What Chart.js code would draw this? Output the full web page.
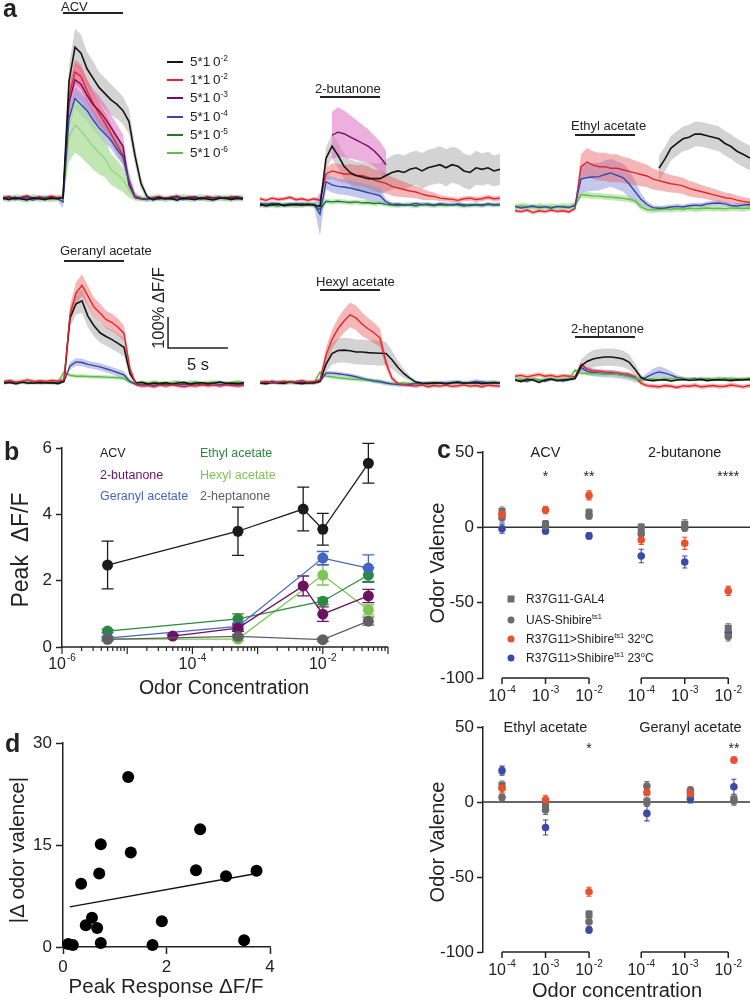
<!DOCTYPE html>
<html lang="en">
<head>
<meta charset="utf-8">
<title>Odor responses and odor valence</title>
<script src="https://cdn.jsdelivr.net/npm/chart.js@4.4.1/dist/chart.umd.min.js"></script>
<style>
html,body{margin:0;padding:0;background:#fff;}
#fig{position:relative;width:750px;height:1001px;overflow:hidden;font-family:'Liberation Sans',Arial,Helvetica,sans-serif;color:#222;}
#fig canvas{position:absolute;}
.t{position:absolute;white-space:nowrap;line-height:1;}
.c{transform:translate(-50%,-50%);}
.l{transform:translateY(-50%);}
.r{transform:translate(-50%,-50%) rotate(-90deg);}
.pl{font-weight:bold;font-size:25px;}
sup{font-size:62%;line-height:0;vertical-align:0;position:relative;top:-0.62em;}
.key{position:absolute;height:2px;width:16px;}
.mk{position:absolute;width:7px;height:7px;transform:translate(-50%,-50%);}
</style>
</head>
<body>
<div id="fig"></div>
<script>
// ======================= DATA =======================
// ---- panel a: time axis (s) ----
const TIME = [0,0.5,1,1.5,2,2.5,3,3.5,4,4.5,5,5.5,6,6.5,7,7.5,8,8.5,9,9.5,10,10.5,11,11.5,12,12.5,13,13.5,14,14.5,15,15.5,16,16.5,17,17.5,18,18.5,19,19.5,20];
const STIM = [5, 10];
const SCALEBAR = {t: 13.67, v: 1.13, dt: 5, dv: 1};
const A_TITLES = ['ACV','2-butanone','Ethyl acetate','Geranyl acetate','Hexyl acetate','2-heptanone'];
const A_LEG_MANT = ['5','1','5','5','5','5'];
const A_LEG_EXP = ['-2','-2','-3','-4','-5','-6'];

// ACV
const ACV_BLACK = [0.03,-0.02,0.05,0.00,-0.03,0.04,0.01,-0.02,0.03,0.00, 0.05, 3.8,4.9,4.7,4.2,3.9,3.6,3.4,3.2,3.05,2.85,2.5,1.4,0.5,0.08, -0.03,0.04,0.00,0.02,-0.04,0.03,0.01,-0.02,0.04,0.00,-0.03,0.02,0.05,-0.01,0.02,0.00];
const ACV_BLACK_SEM = [0.08,0.08,0.08,0.08,0.08,0.08,0.08,0.08,0.08,0.08, 0.1, 0.5,0.6,0.6,0.55,0.55,0.5,0.5,0.5,0.45,0.45,0.4,0.3,0.2,0.1, 0.08,0.08,0.08,0.08,0.08,0.08,0.08,0.08,0.08,0.08,0.08,0.08,0.08,0.08,0.08,0.08];
const ACV_RED = [0.05,0.08,0.02,0.06,0.1,0.03,0.07,0.04,0.09,0.05, 0.05, 3.3,4.1,3.95,3.5,3.1,2.75,2.45,2.1,1.75,1.4,0.6,0.1,0.02,-0.02, 0.04,0.08,0.02,0.06,0.1,0.03,0.07,0.05,0.02,0.08,0.04,0.06,0.03,0.07,0.05,0.04];
const ACV_RED_SEM = [0.06,0.06,0.06,0.06,0.06,0.06,0.06,0.06,0.06,0.06, 0.06, 0.35,0.4,0.4,0.38,0.35,0.35,0.33,0.32,0.3,0.3,0.25,0.12,0.06,0.06, 0.06,0.06,0.06,0.06,0.06,0.06,0.06,0.06,0.06,0.06,0.06,0.06,0.06,0.06,0.06,0.06];
const ACV_PURPLE = [0.02,0.06,0.0,0.04,0.08,0.02,0.05,0.01,0.06,0.03, 0.04, 3.1,3.85,3.7,3.35,3.05,2.85,2.6,2.3,2.0,1.7,0.45,0.05,0.02,0.0, 0.03,0.06,0.01,0.05,0.08,0.02,0.04,0.07,0.01,0.05,0.03,0.06,0.02,0.04,0.07,0.03];
const ACV_PURPLE_SEM = [0.06,0.06,0.06,0.06,0.06,0.06,0.06,0.06,0.06,0.06, 0.06, 0.5,0.55,0.55,0.5,0.5,0.48,0.45,0.42,0.4,0.38,0.25,0.1,0.06,0.06, 0.06,0.06,0.06,0.06,0.06,0.06,0.06,0.06,0.06,0.06,0.06,0.06,0.06,0.06,0.06,0.06];
const ACV_BLUE = [0.0,0.04,-0.02,0.03,0.01,-0.03,0.02,0.05,0.0,0.03, -0.1, 2.6,3.25,3.05,2.85,2.55,2.3,2.1,1.9,1.6,1.35,0.55,0.05,0.0,-0.02, 0.02,-0.01,0.03,0.0,0.04,-0.02,0.01,0.03,-0.01,0.02,0.0,0.04,0.01,-0.02,0.03,0.01];
const ACV_BLUE_SEM = [0.06,0.06,0.06,0.06,0.06,0.06,0.06,0.06,0.06,0.06, 0.2, 0.35,0.35,0.35,0.33,0.32,0.3,0.3,0.28,0.27,0.25,0.2,0.06,0.06,0.06, 0.06,0.06,0.06,0.06,0.06,0.06,0.06,0.06,0.06,0.06,0.06,0.06,0.06,0.06,0.06,0.06];
const ACV_LTGREEN = [0.04,0.0,0.05,0.02,-0.02,0.06,0.01,0.03,-0.01,0.04, 0.05, 2.0,2.4,2.2,1.95,1.7,1.5,1.3,0.95,0.8,0.62,0.3,0.05,0.02,0.0, 0.03,0.05,0.0,0.04,0.02,0.06,0.01,0.03,0.05,0.0,0.02,0.04,0.01,0.05,0.02,0.03];
const ACV_LTGREEN_SEM = [0.1,0.1,0.1,0.1,0.1,0.1,0.1,0.1,0.1,0.1, 0.1, 0.8,0.9,0.85,0.8,0.75,0.7,0.6,0.5,0.45,0.4,0.25,0.1,0.1,0.1, 0.1,0.1,0.1,0.1,0.1,0.1,0.1,0.1,0.1,0.1,0.1,0.1,0.1,0.1,0.1,0.1];

// 2-butanone
const BUT_BLACK = [0.02,-0.03,0.01,0.04,-0.02,0.0,0.03,-0.01,0.02,0.0, -0.05, 1.5,1.9,1.6,1.25,1.05,0.95,0.9,0.85,0.85,0.85, 0.95,1.05,1.1,1.05,1.15,1.2,1.1,1.2,1.25,1.3, 1.2,1.3,1.25,1.1,1.05,1.2,1.15,1.2,1.1,1.15];
const BUT_BLACK_SEM = [0.08,0.08,0.08,0.08,0.08,0.08,0.08,0.08,0.08,0.08, 0.1, 0.35,0.4,0.4,0.4,0.42,0.45,0.48,0.5,0.5,0.5, 0.52,0.55,0.55,0.55,0.55,0.55,0.58,0.58,0.58,0.6, 0.6,0.58,0.58,0.55,0.55,0.55,0.52,0.52,0.5,0.5];
const BUT_PURPLE = [null,null,null,null,null,null,null,null,null,null,null,null, 2.25,2.35,2.3,2.2,2.1,2.0,1.9,1.75,1.55,1.3, null,null,null,null,null,null,null,null,null,null,null,null,null,null,null,null,null,null,null];
const BUT_PURPLE_SEM = [null,null,null,null,null,null,null,null,null,null,null,null, 0.75,0.8,0.75,0.7,0.65,0.6,0.55,0.5,0.5,0.45, null,null,null,null,null,null,null,null,null,null,null,null,null,null,null,null,null,null,null];
const BUT_RED = [0.2,0.15,0.22,0.18,0.2,0.25,0.17,0.2,0.15,0.2, 0.15, 1.0,1.1,1.05,1.0,1.0,0.95,0.95,0.9,0.8,0.75, 0.7,0.6,0.55,0.5,0.45,0.42,0.35,0.3,0.28,0.22, 0.2,0.18,0.15,0.2,0.22,0.18,0.2,0.25,0.2,0.22];
const BUT_RED_SEM = [0.06,0.06,0.06,0.06,0.06,0.06,0.06,0.06,0.06,0.06, 0.06, 0.2,0.25,0.28,0.3,0.32,0.33,0.35,0.35,0.35,0.35, 0.33,0.3,0.28,0.25,0.22,0.2,0.18,0.15,0.12,0.1, 0.08,0.08,0.08,0.08,0.08,0.08,0.08,0.08,0.08,0.08];
const BUT_BLUE = [0.05,0.02,0.06,0.03,0.0,0.04,0.02,0.05,0.01,0.03, -0.3, 0.75,0.65,0.6,0.58,0.55,0.5,0.45,0.4,0.35,0.3,0.1,0.02, 0.03,0.0,0.02,0.05,0.01,0.03,0.0,0.04,0.02,0.0,0.03,0.01,-0.02,0.02,0.0,0.03,0.01,0.02];
const BUT_BLUE_SEM = [0.06,0.06,0.06,0.06,0.06,0.06,0.06,0.06,0.06,0.06, 0.7, 0.25,0.25,0.25,0.25,0.25,0.25,0.25,0.25,0.25,0.25, 0.1, 0.06, 0.06,0.06,0.06,0.06,0.06,0.06,0.06,0.06,0.06,0.06,0.06,0.06,0.06,0.06,0.06,0.06,0.06,0.06];
const BUT_DKGREEN = [-0.02,0.03,0.0,-0.03,0.02,0.01,-0.02,0.0,0.03,-0.01, -0.15, 0.12,0.1,0.12,0.1,0.08,0.1,0.07,0.08,0.05,0.06,0.02,0.0, -0.02,0.01,0.0,-0.03,0.02,0.0,-0.02,0.01,-0.01,0.02,0.0,-0.03,0.01,0.0,-0.02,0.02,0.0,0.01];
const BUT_DKGREEN_SEM = 0.08;

// Ethyl acetate
const ETH_BLACK = [null,null,null,null,null,null,null,null,null,null,null,null,null,null,null,null,null,null,null,null,null,null,null,null, 1.25,1.55,1.9,2.05,2.2,2.25,2.35,2.35,2.3,2.25, 2.2,2.05,1.95,1.8,1.7,1.6,1.55];
const ETH_BLACK_SEM = 0.4;
const ETH_RED = [-0.12,-0.15,-0.1,-0.18,-0.12,-0.15,-0.1,-0.14,-0.12,-0.16, -0.05, 1.3,1.45,1.35,1.3,1.3,1.25,1.25,1.2,1.15,1.1, 1.05,1.0,0.9,0.85,0.8,0.75,0.72,0.68,0.6,0.55, 0.5,0.45,0.4,0.35,0.3,0.28,0.22,0.18,0.15,0.12];
const ETH_RED_SEM = [0.06,0.06,0.06,0.06,0.06,0.06,0.06,0.06,0.06,0.06, 0.06, 0.4,0.45,0.45,0.45,0.45,0.45,0.45,0.42,0.42,0.4, 0.38,0.36,0.34,0.32,0.3,0.28,0.27,0.26,0.25,0.24, 0.22,0.2,0.2,0.18,0.17,0.16,0.15,0.14,0.13,0.12];
const ETH_BLUE = [0.02,-0.03,0.0,0.03,-0.02,0.01,-0.04,0.02,0.0,-0.02, 0.05, 0.9,0.95,0.97,0.98,1.05,1.1,1.02,0.95,0.75,0.5, 0.25,0.08,-0.02,-0.04,-0.03,0.0,0.02,0.0,0.04,0.06, 0.05,0.1,0.12,0.13,0.1,0.05,0.03,0.06,0.08,0.07];
const ETH_BLUE_SEM = [0.06,0.06,0.06,0.06,0.06,0.06,0.06,0.06,0.06,0.06, 0.1, 0.45,0.45,0.45,0.45,0.45,0.45,0.45,0.45,0.45, 0.35,0.2,0.1, 0.08,0.08,0.08,0.08,0.08,0.08,0.08,0.08,0.08,0.08,0.08,0.08,0.08,0.08,0.08,0.08,0.08,0.08];
const ETH_LTGREEN = [0.0,0.04,0.02,-0.02,0.03,0.0,0.02,-0.01,0.03,0.01, 0.05, 0.4,0.38,0.36,0.35,0.33,0.32,0.3,0.28,0.25,0.2,0.0,-0.08,-0.1,-0.08, -0.06,-0.08,-0.05,-0.07,-0.04,-0.06,-0.05,-0.03,-0.05,-0.04,-0.06,-0.03,-0.04,-0.05,-0.03,-0.04];
const ETH_LTGREEN_SEM = 0.1;

// Geranyl acetate
const GER_RED = [0.05,0.08,0.03,0.06,0.1,0.04,0.07,0.05,0.08,0.06, 0.1, 2.2,2.9,3.15,2.8,2.45,2.26,2.05,1.95,1.8,1.6,0.45,-0.05, -0.1,-0.08,-0.12,-0.07,-0.1,-0.06,-0.09,-0.12,-0.08,-0.1,-0.05,-0.09,-0.07,-0.1,-0.06,-0.08,-0.1,-0.07];
const GER_RED_SEM = [0.06,0.06,0.06,0.06,0.06,0.06,0.06,0.06,0.06,0.06, 0.06, 0.3,0.35,0.35,0.33,0.3,0.3,0.28,0.28,0.27,0.25,0.15,0.06, 0.06,0.06,0.06,0.06,0.06,0.06,0.06,0.06,0.06,0.06,0.06,0.06,0.06,0.06,0.06,0.06,0.06,0.06];
const GER_BLACK = [0.0,0.02,-0.02,0.03,0.0,-0.01,0.02,0.0,0.01,-0.02, 0.05, 2.1,2.55,2.65,2.15,1.85,1.62,1.5,1.4,1.28,1.15,0.3,0.0, 0.02,-0.03,0.0,-0.02,0.01,-0.04,0.0,0.02,-0.03,0.0,0.01,-0.02,0.0,0.03,-0.01,0.0,-0.02,0.01];
const GER_BLACK_SEM = [0.05,0.05,0.05,0.05,0.05,0.05,0.05,0.05,0.05,0.05, 0.05, 0.3,0.35,0.38,0.36,0.34,0.32,0.3,0.3,0.3,0.3,0.15,0.05, 0.05,0.05,0.05,0.05,0.05,0.05,0.05,0.05,0.05,0.05,0.05,0.05,0.05,0.05,0.05,0.05,0.05,0.05];
const GER_BLUE = [0.0,0.03,-0.02,0.02,0.0,0.04,-0.01,0.02,0.0,0.03, 0.05, 0.55,0.68,0.66,0.6,0.56,0.52,0.46,0.4,0.33,0.26,0.05,-0.05, -0.06,-0.04,-0.07,-0.03,-0.05,-0.02,-0.06,-0.04,-0.05,-0.03,-0.06,-0.04,-0.02,-0.05,-0.03,-0.04,-0.06,-0.03];
const GER_BLUE_SEM = [0.05,0.05,0.05,0.05,0.05,0.05,0.05,0.05,0.05,0.05, 0.05, 0.12,0.12,0.12,0.12,0.12,0.12,0.12,0.12,0.12,0.12, 0.06, 0.05, 0.05,0.05,0.05,0.05,0.05,0.05,0.05,0.05,0.05,0.05,0.05,0.05,0.05,0.05,0.05,0.05,0.05,0.05];
const GER_LTGREEN = [0.02,0.05,0.0,0.04,0.02,0.06,0.01,0.03,0.05,0.02, 0.35, 0.25,0.22,0.22,0.21,0.2,0.2,0.19,0.18,0.17,0.15,0.02,0.0, 0.02,0.0,0.03,0.01,-0.01,0.02,0.04,0.0,0.02,0.03,0.0,0.01,0.03,0.02,0.0,0.02,0.04,0.01];
const GER_LTGREEN_SEM = 0.06;

// Hexyl acetate
const HEX_RED = [0.02,0.05,0.0,0.03,0.06,0.02,0.04,0.08,0.03,0.05, 0.1, 0.9,1.4,1.75,2.0,2.2,2.1,1.9,1.75,1.62,1.45,0.65,0.15,-0.02, -0.05,-0.08,-0.1,-0.06,-0.12,-0.08,-0.1,-0.07,-0.11,-0.09,-0.06,-0.1,-0.08,-0.12,-0.07,-0.09,-0.1];
const HEX_RED_SEM = [0.05,0.05,0.05,0.05,0.05,0.05,0.05,0.05,0.05,0.05, 0.05, 0.25,0.3,0.35,0.38,0.4,0.4,0.38,0.35,0.33,0.3,0.2,0.1,0.06, 0.06,0.06,0.06,0.06,0.06,0.06,0.06,0.06,0.06,0.06,0.06,0.06,0.06,0.06,0.06,0.06,0.06];
const HEX_BLACK = [0.0,-0.02,0.02,0.0,-0.01,0.03,0.0,-0.02,0.01,0.0, 0.05, 0.6,0.95,1.05,1.06,1.04,1.0,1.0,0.98,0.97,0.96,0.95,0.75,0.5,0.3,0.15,0.03, 0.0,-0.02,0.01,0.0,-0.03,0.0,0.02,-0.01,0.0,0.01,-0.02,0.0,0.01,0.0];
const HEX_BLACK_SEM = [0.05,0.05,0.05,0.05,0.05,0.05,0.05,0.05,0.05,0.05, 0.05, 0.25,0.35,0.4,0.4,0.4,0.4,0.4,0.4,0.4,0.4,0.38,0.3,0.2,0.15,0.08,0.05, 0.05,0.05,0.05,0.05,0.05,0.05,0.05,0.05,0.05,0.05,0.05,0.05,0.05,0.05];
const HEX_BLUE = [0.03,0.0,0.05,0.02,-0.01,0.04,0.01,0.03,0.0,0.02, 0.05, 0.32,0.32,0.3,0.27,0.24,0.2,0.15,0.1,0.06,0.04,0.0,-0.03,-0.05,-0.06, -0.04,-0.02,-0.03,0.0,-0.02,0.01,0.0,0.02,0.03,0.0,0.02,0.05,0.03,0.01,0.02,0.0];
const HEX_BLUE_SEM = 0.07;
const HEX_LTGREEN = [0.0,0.02,0.04,0.0,0.03,0.01,0.02,0.0,0.03,0.01, 0.35, 0.22,0.2,0.17,0.15,0.13,0.12,0.1,0.1,0.08,0.06,0.0,-0.03, -0.02,0.0,-0.03,0.01,-0.02,0.0,0.02,-0.01,0.0,0.01,0.03,0.0,-0.01,0.02,0.0,0.01,0.03,0.0];
const HEX_LTGREEN_SEM = 0.06;

// 2-heptanone
const HEP_BLACK = [0.0,-0.05,0.02,0.0,-0.08,0.0,0.03,-0.02,0.0,0.02, 0.05, 0.45,0.6,0.68,0.72,0.74,0.74,0.72,0.68,0.58,0.35,0.08,0.0, -0.02,0.0,0.01,-0.03,0.0,0.02,-0.01,0.0,0.02,-0.02,0.0,0.01,0.0,-0.02,0.01,0.0,0.02,0.0];
const HEP_BLACK_SEM = [0.04,0.04,0.04,0.04,0.04,0.04,0.04,0.04,0.04,0.04, 0.05, 0.2,0.25,0.28,0.28,0.28,0.28,0.28,0.27,0.25,0.2,0.08,0.04, 0.04,0.04,0.04,0.04,0.04,0.04,0.04,0.04,0.04,0.04,0.04,0.04,0.04,0.04,0.04,0.04,0.04,0.04];
const HEP_RED = [0.12,0.15,0.1,0.14,0.18,0.12,0.15,0.1,0.14,0.12, 0.1, 0.5,0.35,0.3,0.28,0.26,0.25,0.23,0.2,0.18,0.1,-0.1,-0.18, -0.2,-0.22,-0.18,-0.2,-0.24,-0.19,-0.2,-0.17,-0.22,-0.2,-0.18,-0.21,-0.2,-0.16,-0.19,-0.22,-0.18,-0.2];
const HEP_RED_SEM = 0.07;
const HEP_BLUE = [0.02,0.0,-0.05,0.03,0.0,-0.04,0.02,0.0,-0.03,0.01, 0.05, 0.4,0.28,0.24,0.22,0.2,0.2,0.18,0.15,0.12,0.05, 0.0,0.1,0.2,0.26,0.22,0.16,0.08,0.05, 0.03,0.05,0.02,0.04,0.01,0.03,0.05,0.02,0.0,0.03,0.04,0.02];
const HEP_BLUE_SEM = [0.05,0.05,0.05,0.05,0.05,0.05,0.05,0.05,0.05,0.05, 0.05, 0.12,0.12,0.12,0.12,0.12,0.12,0.12,0.12,0.12,0.12, 0.08, 0.12,0.16,0.18,0.16,0.12,0.08,0.06, 0.05,0.05,0.05,0.05,0.05,0.05,0.05,0.05,0.05,0.05,0.05,0.05];
const HEP_LTGREEN = [0.0,0.03,0.01,0.04,0.0,0.02,0.05,0.01,0.03,0.02, 0.32, 0.22,0.21,0.2,0.2,0.19,0.19,0.18,0.14,0.1,0.05,0.0,0.02, 0.03,0.02,0.04,0.03,0.05,0.03,0.04,0.02,0.05,0.03,0.04,0.06,0.03,0.05,0.04,0.03,0.05,0.04];
const HEP_LTGREEN_SEM = 0.06;

// ---- panel b: peak dF/F vs concentration ----
const B_NAMES = ['ACV','2-butanone','Geranyl acetate','Ethyl acetate','Hexyl acetate','2-heptanone'];
const B_ACV_X = [5e-6,5e-4,5e-3,1e-2,5e-2];
const B_ACV_Y = [2.47,3.49,4.16,3.55,5.54];
const B_ACV_E = [0.72,0.73,0.66,0.48,0.6];
const B_BUT_X = [5e-5,5e-4,5e-3,1e-2,5e-2];
const B_BUT_Y = [0.33,0.57,1.84,0.99,1.54];
const B_BUT_E = [0.05,0.1,0.3,0.22,0.2];
const B_GER_X = [5e-6,5e-4,1e-2,5e-2];
const B_GER_Y = [0.27,0.62,2.68,2.38];
const B_GER_E = [0.05,0.1,0.2,0.4];
const B_ETH_X = [5e-6,5e-4,1e-2,5e-2];
const B_ETH_Y = [0.48,0.85,1.38,2.17];
const B_ETH_E = [0.05,0.15,0.1,0.22];
const B_HEX_X = [5e-6,5e-4,1e-2,5e-2];
const B_HEX_Y = [0.24,0.24,2.17,1.12];
const B_HEX_E = [0.05,0.05,0.3,0.15];
const B_HEP_X = [5e-6,5e-4,1e-2,5e-2];
const B_HEP_Y = [0.23,0.32,0.22,0.78];
const B_HEP_E = [0.05,0.05,0.05,0.12];
const B_XLABEL_EXP = [-6,-4,-2];

// ---- panel c: odor valence ----
const C_CONC_EXP = ['-4','-3','-2'];
const C_TOP_ODORS = ['ACV','2-butanone'];
const C_BOT_ODORS = ['Ethyl acetate','Geranyl acetate'];
const C_GENOTYPES = ['R37G11-GAL4','UAS-Shibire<sup>ts1</sup>','R37G11>Shibire<sup>ts1</sup> 32<sup>o</sup>C','R37G11>Shibire<sup>ts1</sup> 23<sup>o</sup>C'];
const C_TOP_GAL4 = [10.5, 2, 9.7, -0.2, 2, -67];
const C_TOP_UAS  = [6.4, 0.9, 7.5, -4.2, -0.5, -72.4];
const C_TOP_HOT  = [8.6, 11.5, 21.2, -8.4, -10.6, -42.2];
const C_TOP_COLD = [-0.9, -2.4, -5.7, -19, -23, -70];
const C_TOP_GAL4_E = [3, 2.5, 2.5, 2.5, 3, 3];
const C_TOP_UAS_E  = [3, 2, 2, 2, 2, 3];
const C_TOP_HOT_E  = [3, 2.5, 3, 3, 4, 3];
const C_TOP_COLD_E = [3, 2, 2, 4.5, 4, 3];
const C_TOP_STARS = ['', '*', '**', '', '', '****'];
const C_BOT_GAL4 = [11, -3, -75, 0.2, 5.3, 1.8];
const C_BOT_UAS  = [3.1, -5.3, -79.8, 10.7, 8, 0.9];
const C_BOT_HOT  = [9.1, 1.5, -59.8, 6.4, 6, 28];
const C_BOT_COLD = [20.9, -17, -85.3, -7.6, 2.4, 10.2];
const C_BOT_GAL4_E = [3, 3, 2.5, 3, 2.5, 3];
const C_BOT_UAS_E  = [2, 3, 3, 3, 2, 3];
const C_BOT_HOT_E  = [3, 3, 3, 2, 2, 2];
const C_BOT_COLD_E = [3, 5, 2, 5, 3, 5];
const C_BOT_STARS = ['', '', '*', '', '', '**'];

// ---- panel d: |delta valence| vs peak response ----
const D_X = [1.26,2.65,0.73,1.31,0.35,0.70,2.57,3.15,3.74,0.44,0.56,0.66,1.91,3.50,0.73,1.73,0.10,0.19];
const D_Y = [25.0,17.3,15.1,13.9,9.3,10.8,11.3,10.4,11.2,3.2,4.3,2.8,3.8,1.0,0.6,0.3,0.45,0.3];
const D_FIT_X = [0.13, 3.74];
const D_FIT_Y = [5.9, 10.8];

// ======================= STYLE =======================
const FONT = "'Liberation Sans', Arial, Helvetica, sans-serif";
const INK = '#222';
const C_BLACK = '#141414', C_RED = '#e2262b', C_PURPLE = '#6a1060', C_BLUE = '#3548a6', C_DKGREEN = '#1e7b2e', C_LTGREEN = '#5fbf45';
const BD_GRAY = 'rgba(175,175,175,0.55)', BD_SALMON = 'rgba(230,80,85,0.42)', BD_PINK = 'rgba(220,110,195,0.55)', BD_LAV = 'rgba(140,145,220,0.5)', BD_LTG = 'rgba(140,210,120,0.5)';
const B_COL = {acv:'#1b1b1b', but:'#6b1260', ger:'#4565c2', eth:'#2b8a3e', hex:'#7cc653', hep:'#606060'};
const CV_GRAY = '#6c6c6c', CV_HOT = '#e8502e', CV_COLD = '#3b4aa6';
const UNIT_PX = 31;

Chart.defaults.font.family = FONT;
Chart.defaults.color = INK;
Chart.defaults.animation = false;

const fig = document.getElementById('fig');
function txt(html, x, y, cls, css) {
  const d = document.createElement('div');
  d.className = 't ' + (cls || 'c');
  d.style.left = x + 'px'; d.style.top = y + 'px';
  if (css) d.style.cssText += css;
  d.innerHTML = html;
  fig.appendChild(d);
  return d;
}
function mkCanvas(left, top, w, h) {
  const c = document.createElement('canvas');
  c.width = w; c.height = h;
  c.style.left = left + 'px'; c.style.top = top + 'px';
  c.style.width = w + 'px'; c.style.height = h + 'px';
  fig.appendChild(c);
  return c;
}
function drawPow(ctx, x, cy, exp, size) {
  ctx.save();
  ctx.fillStyle = INK; ctx.textBaseline = 'middle'; ctx.textAlign = 'left';
  const es = Math.round(size * 0.62);
  ctx.font = size + 'px ' + FONT; const w1 = ctx.measureText('10').width;
  ctx.font = es + 'px ' + FONT; const w2 = ctx.measureText(exp).width;
  const x0 = x - (w1 + w2 + 1) / 2;
  ctx.font = size + 'px ' + FONT; ctx.fillText('10', x0, cy);
  ctx.font = es + 'px ' + FONT; ctx.fillText(exp, x0 + w1 + 1, cy - size * 0.42);
  ctx.restore();
}
const errPlugin = {
  id: 'errbars',
  beforeDatasetsDraw(c) {
    const ctx = c.ctx, ys = c.scales.y;
    c.data.datasets.forEach((ds, i) => {
      if (!ds.errs) return;
      const meta = c.getDatasetMeta(i);
      ctx.save();
      ctx.strokeStyle = ds.borderColor; ctx.lineWidth = ds.errWidth || 1.2;
      ds.data.forEach((p, j) => {
        const e = ds.errs[j]; if (!e || p.y == null) return;
        const x = meta.data[j].x;
        const y1 = ys.getPixelForValue(p.y + e), y2 = ys.getPixelForValue(p.y - e);
        const cw = ds.capW || 3;
        ctx.beginPath();
        ctx.moveTo(x, y1); ctx.lineTo(x, y2);
        ctx.moveTo(x - cw, y1); ctx.lineTo(x + cw, y1);
        ctx.moveTo(x - cw, y2); ctx.lineTo(x + cw, y2);
        ctx.stroke();
      });
      ctx.restore();
    });
  }
};

// check lengths
(function(){
  const arrs = {ACV_BLACK,ACV_BLACK_SEM,ACV_RED,ACV_RED_SEM,ACV_PURPLE,ACV_PURPLE_SEM,ACV_BLUE,ACV_BLUE_SEM,ACV_LTGREEN,ACV_LTGREEN_SEM,
    BUT_BLACK,BUT_BLACK_SEM,BUT_PURPLE,BUT_PURPLE_SEM,BUT_RED,BUT_RED_SEM,BUT_BLUE,BUT_BLUE_SEM,BUT_DKGREEN,
    ETH_BLACK,ETH_RED,ETH_RED_SEM,ETH_BLUE,ETH_BLUE_SEM,ETH_LTGREEN,
    GER_RED,GER_RED_SEM,GER_BLACK,GER_BLACK_SEM,GER_BLUE,GER_BLUE_SEM,GER_LTGREEN,
    HEX_RED,HEX_RED_SEM,HEX_BLACK,HEX_BLACK_SEM,HEX_BLUE,HEX_LTGREEN,
    HEP_BLACK,HEP_BLACK_SEM,HEP_RED,HEP_BLUE,HEP_BLUE_SEM,HEP_LTGREEN};
  const bad = Object.keys(arrs).filter(k => arrs[k].length !== TIME.length).map(k => k + ':' + arrs[k].length);
  if (bad.length) txt('LEN ' + bad.join(' '), 300, 20, 'l', 'color:red;font-size:10px;');
})();

// ======================= PANEL a =======================
const A_GEOM = [
  {left:3,   top:0,   w:240, h:225, base:199, barY:13,  tx:61,  ty:6},
  {left:260, top:80,  w:240, h:160, base:205, barY:97,  tx:315, ty:88},
  {left:515, top:110, w:240, h:120, base:207, barY:135, tx:571, ty:125},
  {left:4,   top:240, w:240, h:160, base:383, barY:261, tx:60,  ty:250},
  {left:260, top:270, w:240, h:130, base:383, barY:290, tx:316, ty:281},
  {left:515, top:315, w:240, h:85,  base:380, barY:337, tx:571, ty:328},
];
const A_LAYERS = [
  [ {band:BD_GRAY, mean:ACV_BLACK, sem:ACV_BLACK_SEM},
    {band:BD_PINK, mean:ACV_PURPLE, sem:ACV_PURPLE_SEM},
    {band:BD_SALMON, mean:ACV_RED, sem:ACV_RED_SEM},
    {band:BD_LAV, mean:ACV_BLUE, sem:ACV_BLUE_SEM},
    {line:C_LTGREEN, mean:ACV_LTGREEN},
    {band:'rgba(172,222,155,0.75)', mean:ACV_LTGREEN, sem:ACV_LTGREEN_SEM},
    {line:C_RED, mean:ACV_RED}, {line:C_PURPLE, mean:ACV_PURPLE}, {line:C_BLUE, mean:ACV_BLUE}, {line:C_BLACK, mean:ACV_BLACK} ],
  [ {band:BD_GRAY, mean:BUT_BLACK, sem:BUT_BLACK_SEM},
    {band:BD_SALMON, mean:BUT_RED, sem:BUT_RED_SEM},
    {band:BD_PINK, mean:BUT_PURPLE, sem:BUT_PURPLE_SEM},
    {band:BD_LAV, mean:BUT_BLUE, sem:BUT_BLUE_SEM},
    {band:BD_LTG, mean:BUT_DKGREEN, sem:BUT_DKGREEN_SEM},
    {line:C_DKGREEN, mean:BUT_DKGREEN}, {line:C_BLUE, mean:BUT_BLUE}, {line:C_RED, mean:BUT_RED}, {line:C_PURPLE, mean:BUT_PURPLE}, {line:C_BLACK, mean:BUT_BLACK} ],
  [ {band:BD_GRAY, mean:ETH_BLACK, sem:ETH_BLACK_SEM},
    {band:BD_LAV, mean:ETH_BLUE, sem:ETH_BLUE_SEM},
    {band:BD_SALMON, mean:ETH_RED, sem:ETH_RED_SEM},
    {band:BD_LTG, mean:ETH_LTGREEN, sem:ETH_LTGREEN_SEM},
    {line:C_LTGREEN, mean:ETH_LTGREEN}, {line:C_RED, mean:ETH_RED}, {line:C_BLUE, mean:ETH_BLUE}, {line:C_BLACK, mean:ETH_BLACK} ],
  [ {band:BD_GRAY, mean:GER_BLACK, sem:GER_BLACK_SEM},
    {band:BD_SALMON, mean:GER_RED, sem:GER_RED_SEM},
    {band:BD_LAV, mean:GER_BLUE, sem:GER_BLUE_SEM},
    {band:BD_LTG, mean:GER_LTGREEN, sem:GER_LTGREEN_SEM},
    {line:C_LTGREEN, mean:GER_LTGREEN}, {line:C_BLUE, mean:GER_BLUE}, {line:C_BLACK, mean:GER_BLACK}, {line:C_RED, mean:GER_RED} ],
  [ {band:BD_GRAY, mean:HEX_BLACK, sem:HEX_BLACK_SEM},
    {band:BD_SALMON, mean:HEX_RED, sem:HEX_RED_SEM},
    {band:BD_LAV, mean:HEX_BLUE, sem:HEX_BLUE_SEM},
    {band:BD_LTG, mean:HEX_LTGREEN, sem:HEX_LTGREEN_SEM},
    {line:C_LTGREEN, mean:HEX_LTGREEN}, {line:C_BLUE, mean:HEX_BLUE}, {line:C_BLACK, mean:HEX_BLACK}, {line:C_RED, mean:HEX_RED} ],
  [ {band:BD_GRAY, mean:HEP_BLACK, sem:HEP_BLACK_SEM},
    {band:BD_SALMON, mean:HEP_RED, sem:HEP_RED_SEM},
    {band:BD_LAV, mean:HEP_BLUE, sem:HEP_BLUE_SEM},
    {band:BD_LTG, mean:HEP_LTGREEN, sem:HEP_LTGREEN_SEM},
    {line:C_RED, mean:HEP_RED}, {line:C_BLUE, mean:HEP_BLUE}, {line:C_LTGREEN, mean:HEP_LTGREEN}, {line:C_BLACK, mean:HEP_BLACK} ],
];

function tracePanel(g, layers, extraPlugins) {
  const cv = mkCanvas(g.left, g.top, g.w, g.h);
  const ymax = (g.base - g.top) / UNIT_PX, ymin = -(g.top + g.h - g.base) / UNIT_PX;
  const datasets = [];
  layers.forEach(L => {
    const semAt = i => Array.isArray(L.sem) ? L.sem[i] : L.sem;
    if (L.band) {
      datasets.push({data: TIME.map((t, i) => ({x: t, y: L.mean[i] == null ? null : L.mean[i] + semAt(i)})),
        borderWidth: 0, borderColor: 'transparent', pointRadius: 0, backgroundColor: L.band, fill: '+1'});
      datasets.push({data: TIME.map((t, i) => ({x: t, y: L.mean[i] == null ? null : L.mean[i] - semAt(i)})),
        borderWidth: 0, borderColor: 'transparent', pointRadius: 0, fill: false});
    } else {
      datasets.push({data: TIME.map((t, i) => ({x: t, y: L.mean[i]})),
        borderColor: L.line, borderWidth: L.line === C_BLACK ? 1.6 : 1.4, pointRadius: 0, fill: false});
    }
  });
  const n = datasets.length;
  datasets.forEach((d, i) => { d.order = n - i; d.tension = 0; d.spanGaps = false; });
  const stim = {
    id: 'stim',
    afterDraw(c) {
      const xs = c.scales.x, ctx = c.ctx, y = g.barY - g.top;
      ctx.save(); ctx.strokeStyle = INK; ctx.lineWidth = 2;
      ctx.beginPath(); ctx.moveTo(xs.getPixelForValue(STIM[0]), y); ctx.lineTo(xs.getPixelForValue(STIM[1]), y); ctx.stroke();
      ctx.restore();
    }
  };
  return new Chart(cv, {
    type: 'line',
    data: {datasets},
    options: {
      responsive: false, animation: false, devicePixelRatio: 1,
      layout: {padding: 0, autoPadding: false},
      plugins: {legend: {display: false}, tooltip: {enabled: false}},
      scales: {x: {type: 'linear', min: 0, max: 20, display: false}, y: {min: ymin, max: ymax, display: false}}
    },
    plugins: [stim].concat(extraPlugins || [])
  });
}
const scaleBarPlugin = {
  id: 'scalebar',
  afterDraw(c) {
    const xs = c.scales.x, ys = c.scales.y, ctx = c.ctx;
    const x0 = xs.getPixelForValue(SCALEBAR.t), x1 = xs.getPixelForValue(SCALEBAR.t + SCALEBAR.dt);
    const y0 = ys.getPixelForValue(SCALEBAR.v), y1 = ys.getPixelForValue(SCALEBAR.v + SCALEBAR.dv);
    ctx.save(); ctx.strokeStyle = INK; ctx.lineWidth = 1.5;
    ctx.beginPath(); ctx.moveTo(x0, y1); ctx.lineTo(x0, y0); ctx.lineTo(x1, y0); ctx.stroke();
    ctx.restore();
  }
};
A_GEOM.forEach((g, k) => {
  tracePanel(g, A_LAYERS[k], k === 3 ? [scaleBarPlugin] : []);
  txt(A_TITLES[k], g.tx, g.ty, 'l', 'font-size:13px;');
});
txt('a', 3, 8, 'l pl');
// legend (ACV)
const A_LEG_COL = [C_BLACK, C_RED, C_PURPLE, C_BLUE, C_DKGREEN, C_LTGREEN];
const A_LEG_Y = [62, 80, 98, 117, 135, 153];
A_LEG_MANT.forEach((m, i) => {
  const k = document.createElement('div');
  k.className = 'key'; k.style.left = '167px'; k.style.top = (A_LEG_Y[i] - 1) + 'px'; k.style.background = A_LEG_COL[i];
  fig.appendChild(k);
  txt(m + '*1&#8201;0<sup>' + A_LEG_EXP[i] + '</sup>', 190, A_LEG_Y[i], 'l', 'font-size:13.5px;');
});
txt('100% &Delta;F/F', 158, 308, 'r', 'font-size:16.5px;');
txt('5 s', 198, 364, 'c', 'font-size:16.5px;');

// ======================= PANEL b =======================
(function(){
  const cv = mkCanvas(0, 430, 400, 280);
  const series = [
    {x:B_HEX_X, y:B_HEX_Y, e:B_HEX_E, col:B_COL.hex},
    {x:B_ETH_X, y:B_ETH_Y, e:B_ETH_E, col:B_COL.eth},
    {x:B_GER_X, y:B_GER_Y, e:B_GER_E, col:B_COL.ger},
    {x:B_BUT_X, y:B_BUT_Y, e:B_BUT_E, col:B_COL.but},
    {x:B_HEP_X, y:B_HEP_Y, e:B_HEP_E, col:B_COL.hep},
    {x:B_ACV_X, y:B_ACV_Y, e:B_ACV_E, col:B_COL.acv},
  ];
  const datasets = series.map((s, i) => ({
    data: s.x.map((x, j) => ({x, y: s.y[j]})), errs: s.e, capW: 6, errWidth: 1.3,
    showLine: true, borderColor: s.col, backgroundColor: s.col, pointBackgroundColor: s.col,
    borderWidth: 1.3, pointRadius: 5.5, pointBorderWidth: 0, order: series.length - i, clip: false
  }));
  const logAxis = {
    id: 'logaxis',
    afterDraw(c) {
      const xs = c.scales.x, ctx = c.ctx, y0 = c.chartArea.bottom;
      ctx.save(); ctx.strokeStyle = INK; ctx.lineWidth = 1.5;
      ctx.beginPath(); ctx.moveTo(xs.getPixelForValue(1e-6) - 0.75, y0); ctx.lineTo(xs.getPixelForValue(1e-1), y0); ctx.stroke();
      ctx.lineWidth = 1.2;
      for (let k = -6; k <= -1; k++) {
        const xm = xs.getPixelForValue(Math.pow(10, k));
        ctx.beginPath(); ctx.moveTo(xm, y0); ctx.lineTo(xm, y0 + 7); ctx.stroke();
        if (k < -1) for (let m = 2; m <= 9; m++) {
          const xn = xs.getPixelForValue(m * Math.pow(10, k));
          ctx.beginPath(); ctx.moveTo(xn, y0); ctx.lineTo(xn, y0 + 4); ctx.stroke();
        }
      }
      ctx.restore();
      B_XLABEL_EXP.forEach(k => drawPow(ctx, xs.getPixelForValue(Math.pow(10, k)), y0 + 18, String(k), 16));
    }
  };
  new Chart(cv, {
    type: 'scatter',
    data: {datasets},
    options: {
      responsive: false, animation: false, devicePixelRatio: 1,
      layout: {padding: {top: 18, right: 12, bottom: 63, left: 0}, autoPadding: false},
      plugins: {legend: {display: false}, tooltip: {enabled: false}},
      scales: {
        x: {type: 'logarithmic', min: 1e-6, max: 1e-1, display: false},
        y: {min: 0, max: 6, ticks: {stepSize: 2, font: {size: 17}, color: INK, padding: 4},
            grid: {drawOnChartArea: false, drawTicks: true, tickLength: 6, tickColor: INK, tickWidth: 1.5},
            border: {display: true, color: INK, width: 1.5},
            afterFit(s) { s.width = 62; }}
      }
    },
    plugins: [errPlugin, logAxis]
  });
  txt('b', 4, 451, 'l pl');
  txt('Peak&nbsp;&nbsp;&Delta;F/F', 20, 550, 'r', 'font-size:23px;');
  txt('Odor Concentration', 224, 688, 'c', 'font-size:19.5px;');
  const legCols = [B_COL.acv, B_COL.but, B_COL.ger, B_COL.eth, B_COL.hex, B_COL.hep];
  const legX = [100, 100, 100, 200, 200, 200], legY = [453, 474.5, 495.5, 453, 474.5, 495.5];
  B_NAMES.forEach((nm, i) => txt(nm, legX[i], legY[i], 'l', 'font-size:12.5px;color:' + legCols[i] + ';'));
})();

// ======================= PANEL c =======================
const COL_POS = [0, 1, 2, 3.2, 4.2, 5.2];
function valencePanel(g, v, e, stars, odors, shift) {
  const cv = mkCanvas(g.left, g.top, g.w, g.h);
  const pos = i => COL_POS[i] + (shift ? shift[i] : 0);
  const specs = [
    {v: v.cold, e: e.cold, col: CV_COLD, st: 'circle', r: 3.8},
    {v: v.gal4, e: e.gal4, col: CV_GRAY, st: 'rect', r: 5},
    {v: v.uas, e: e.uas, col: CV_GRAY, st: 'circle', r: 3.8},
    {v: v.hot, e: e.hot, col: CV_HOT, st: 'circle', r: 3.8},
  ];
  const datasets = specs.map((s, k) => ({
    data: s.v.map((y, i) => ({x: pos(i), y})), errs: s.e, capW: 2.6, errWidth: 1.1,
    pointStyle: s.st, pointRadius: s.r, backgroundColor: s.col, borderColor: s.col, pointBorderWidth: 0,
    order: specs.length - k, clip: false
  }));
  const deco = {
    id: 'cdeco',
    beforeDatasetsDraw(c) {
      const ys = c.scales.y, ctx = c.ctx, y0 = ys.getPixelForValue(0);
      ctx.save(); ctx.strokeStyle = '#333'; ctx.lineWidth = 1.5;
      ctx.beginPath(); ctx.moveTo(c.chartArea.left, y0); ctx.lineTo(c.chartArea.right, y0); ctx.stroke();
      ctx.restore();
    },
    afterDraw(c) {
      const xs = c.scales.x, ctx = c.ctx, yb = c.chartArea.bottom;
      ctx.save(); ctx.strokeStyle = INK; ctx.lineWidth = 1.5;
      [[0, 1, 2], [3, 4, 5]].forEach(grp => {
        const xa = xs.getPixelForValue(COL_POS[grp[0]]), xb = xs.getPixelForValue(COL_POS[grp[2]]);
        ctx.beginPath(); ctx.moveTo(xa, yb); ctx.lineTo(xb, yb); ctx.stroke();
        grp.forEach(i => { const x = xs.getPixelForValue(COL_POS[i]); ctx.beginPath(); ctx.moveTo(x, yb); ctx.lineTo(x, yb + 6); ctx.stroke(); });
      });
      ctx.restore();
      COL_POS.forEach((p, i) => drawPow(ctx, xs.getPixelForValue(p), yb + 19, C_CONC_EXP[i % 3], 16));
    }
  };
  const ch = new Chart(cv, {
    type: 'scatter',
    data: {datasets},
    options: {
      responsive: false, animation: false, devicePixelRatio: 1,
      layout: {padding: {top: g.pt, right: 0, bottom: g.pb, left: 0}, autoPadding: false},
      plugins: {legend: {display: false}, tooltip: {enabled: false}},
      scales: {
        x: {type: 'linear', min: -0.437, max: 5.70, display: false},
        y: {min: -100, max: 50, ticks: {stepSize: 50, font: {size: 17}, color: INK, padding: 3},
            grid: {drawOnChartArea: false, drawTicks: true, tickLength: 6, tickColor: INK, tickWidth: 1.5},
            border: {display: true, color: INK, width: 1.5},
            afterFit(s) { s.width = 53; }}
      }
    },
    plugins: [deco, errPlugin]
  });
  const xs = ch.scales.x, ys = ch.scales.y;
  const gc = [1, 4.2];
  odors.forEach((o, k) => txt(o, g.left + xs.getPixelForValue(gc[k] + (shift ? shift[k * 3 + 1] : 0)), g.top + ys.getPixelForValue(50), 'c', 'font-size:14.5px;'));
  stars.forEach((s, i) => { if (s) txt(s, g.left + xs.getPixelForValue(pos(i)), g.top + ys.getPixelForValue(g.starV), 'c', 'font-size:14px;'); });
  return ch;
}
valencePanel({left: 430, top: 430, w: 320, h: 290, pt: 22, pb: 42, starV: 34},
  {gal4: C_TOP_GAL4, uas: C_TOP_UAS, hot: C_TOP_HOT, cold: C_TOP_COLD},
  {gal4: C_TOP_GAL4_E, uas: C_TOP_UAS_E, hot: C_TOP_HOT_E, cold: C_TOP_COLD_E},
  C_TOP_STARS, C_TOP_ODORS, null);
valencePanel({left: 430, top: 705, w: 320, h: 296, pt: 22, pb: 49, starV: 36},
  {gal4: C_BOT_GAL4, uas: C_BOT_UAS, hot: C_BOT_HOT, cold: C_BOT_COLD},
  {gal4: C_BOT_GAL4_E, uas: C_BOT_UAS_E, hot: C_BOT_HOT_E, cold: C_BOT_COLD_E},
  C_BOT_STARS, C_BOT_ODORS, [0, 0, 0, 0.13, 0.13, 0.13]);
txt('c', 437, 449, 'l pl');
txt('Odor Valence', 437, 563, 'r', 'font-size:20px;');
txt('Odor Valence', 437, 842, 'r', 'font-size:20px;');
txt('Odor concentration', 617, 990, 'c', 'font-size:20px;');
// legend
const C_LEG_Y = [599, 620, 639, 658];
const C_LEG_COL = [CV_GRAY, CV_GRAY, CV_HOT, CV_COLD];
C_GENOTYPES.forEach((gname, i) => {
  const m = document.createElement('div');
  m.className = 'mk'; m.style.left = '511px'; m.style.top = C_LEG_Y[i] + 'px'; m.style.background = C_LEG_COL[i];
  if (i > 0) m.style.borderRadius = '50%';
  fig.appendChild(m);
  txt(gname, 526, C_LEG_Y[i], 'l', 'font-size:12px;');
});

// ======================= PANEL d =======================
(function(){
  const cv = mkCanvas(0, 720, 300, 281);
  new Chart(cv, {
    type: 'scatter',
    data: {datasets: [
      {data: D_X.map((x, i) => ({x, y: D_Y[i]})), pointRadius: 6, pointBorderWidth: 0, backgroundColor: '#000', borderColor: '#000', clip: false, order: 1},
      {data: D_FIT_X.map((x, i) => ({x, y: D_FIT_Y[i]})), showLine: true, pointRadius: 0, borderColor: '#111', borderWidth: 1.5, clip: false, order: 2}
    ]},
    options: {
      responsive: false, animation: false, devicePixelRatio: 1,
      layout: {padding: {top: 23, right: 30, bottom: 24, left: 0}, autoPadding: false},
      plugins: {legend: {display: false}, tooltip: {enabled: false}},
      scales: {
        x: {min: 0, max: 4, ticks: {stepSize: 2, font: {size: 17}, color: INK, padding: 3, maxRotation: 0},
            grid: {drawOnChartArea: false, drawTicks: true, tickLength: 7, tickColor: INK, tickWidth: 1.5},
            border: {display: true, color: INK, width: 1.5},
            afterFit(s) { s.height = 30; }},
        y: {min: 0, max: 30, ticks: {stepSize: 15, font: {size: 17}, color: INK, padding: 4},
            grid: {drawOnChartArea: false, drawTicks: true, tickLength: 7, tickColor: INK, tickWidth: 1.5},
            border: {display: true, color: INK, width: 1.5},
            afterFit(s) { s.width = 63; }}
      }
    }
  });
  txt('d', 5, 743, 'l pl');
  txt('|&Delta; odor valence|', 17, 850, 'r', 'font-size:20.5px;');
  txt('Peak Response &Delta;F/F', 166, 986, 'c', 'font-size:20.5px;');
})();
</script>
</body>
</html>
